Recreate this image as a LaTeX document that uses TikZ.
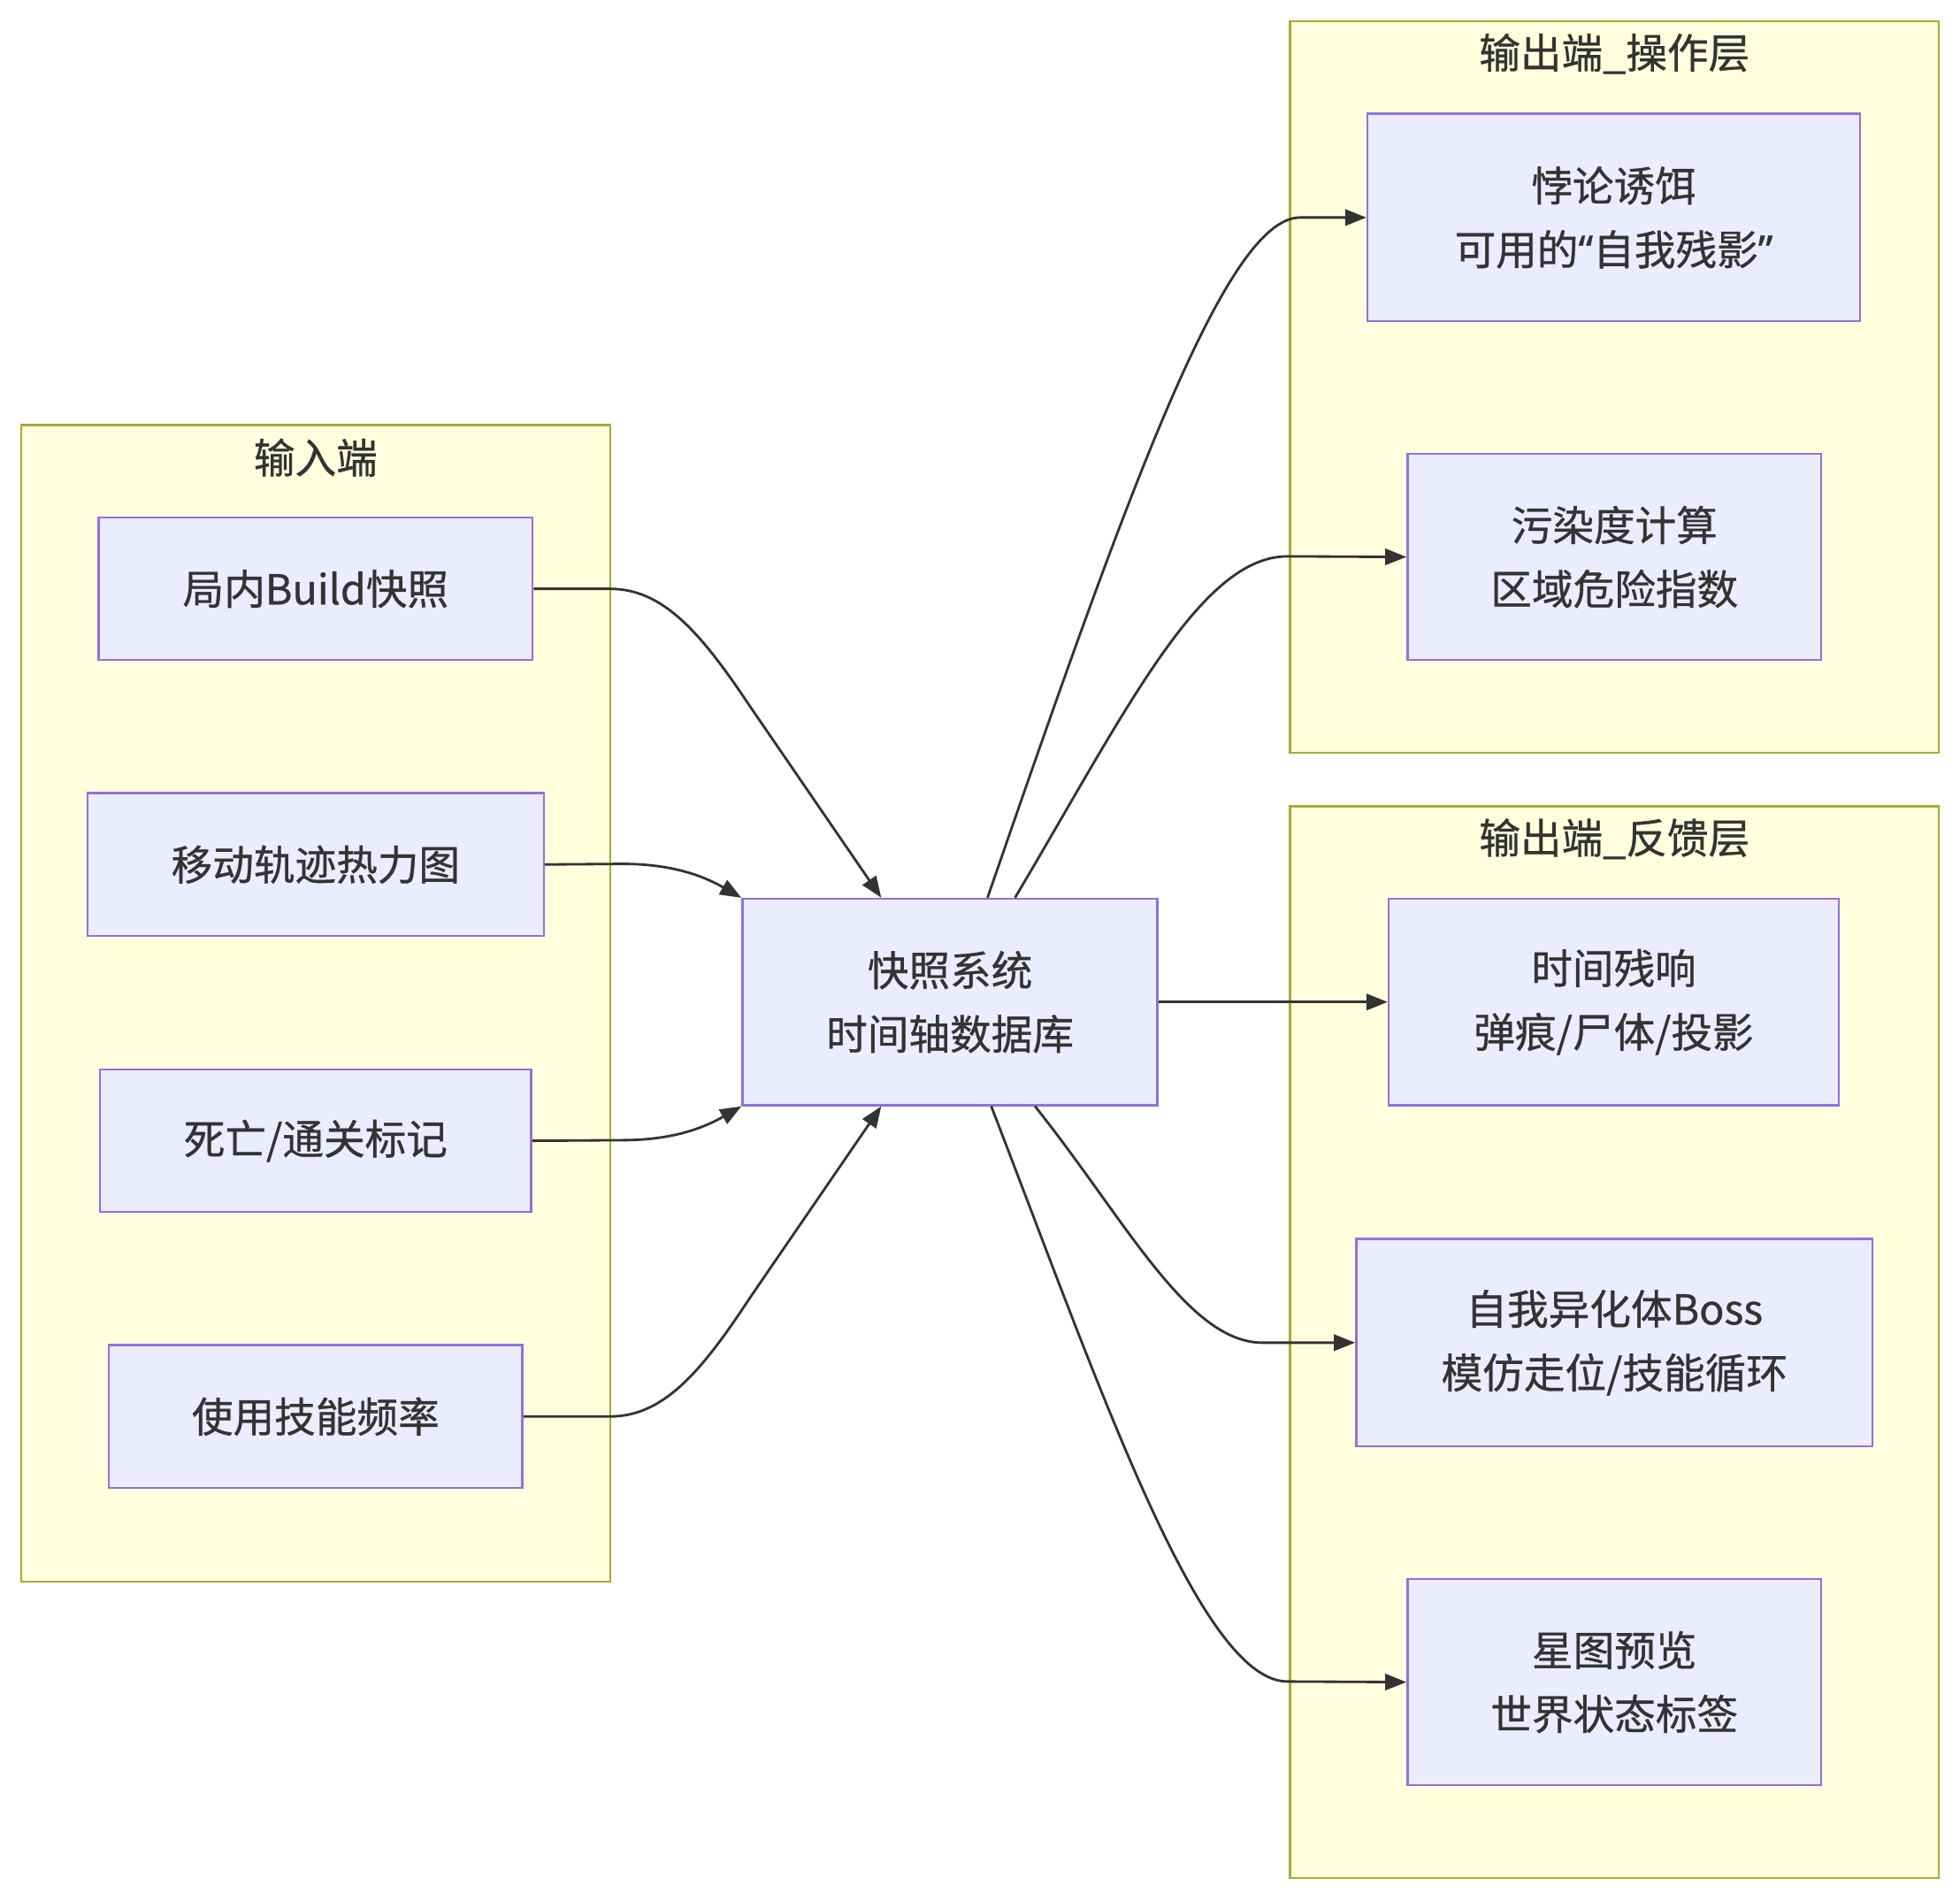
\documentclass[tikz,border=0pt]{standalone}
\usepackage{fontspec}
\setmainfont{Noto Sans CJK SC}[FakeBold=0.7]
\newfontfamily\quotefont{Noto Sans}[FakeBold=0.7]
\usetikzlibrary{arrows.meta}
\definecolor{boxfill}{HTML}{ECECFF}
\definecolor{boxline}{HTML}{9370DB}
\definecolor{grpfill}{HTML}{FFFFDE}
\definecolor{grpline}{HTML}{AAAA33}
\definecolor{ink}{HTML}{333333}
\newcommand{\quoted}[1]{{\quotefont“}#1{\quotefont”}}
\tikzset{
	box/.style={draw=boxline,fill=boxfill,line width=1.8pt,inner sep=0pt,align=center,text=ink,font=\fontsize{33}{51}\selectfont},
	grp/.style={draw=grpline,fill=grpfill,line width=1.6pt},
	grptitle/.style={text=ink,inner sep=0pt,font=\fontsize{33}{40}\selectfont},
	link/.style={draw=ink,line width=2pt,-{Triangle[length=17pt,width=13pt]}}
}
\begin{document}
\begin{tikzpicture}[x=1pt,y=-1pt]
	\useasboundingbox (0,0) rectangle (1568,1520);
	% groups
	\draw[grp] (17,340) rectangle (488,1265);
	\draw[grp] (1032,17) rectangle (1551,602);
	\draw[grp] (1032,645) rectangle (1551,1502);
	\node[grptitle] (tin) at (252.5,366) {输入端};
	\node[grptitle] (top) at (1291.5,43) {输出端\_操作层};
	\node[grptitle] (tfb) at (1291.5,671) {输出端\_反馈层};
	% input side
	\node[box,minimum width=347pt,minimum height=114pt] (build) at (252.5,471) {局内Build快照};
	\node[box,minimum width=365pt,minimum height=114pt] (heat) at (252.5,691.5) {移动轨迹热力图};
	\node[box,minimum width=345pt,minimum height=114pt] (death) at (252.5,912.5) {死亡/通关标记};
	\node[box,minimum width=331pt,minimum height=114pt] (skill) at (252.5,1133) {使用技能频率};
	% core
	\node[box,minimum width=332pt,minimum height=165pt] (core) at (760,801.5) {快照系统\\时间轴数据库};
	% output side
	\node[box,minimum width=394pt,minimum height=166pt] (bait) at (1291,174) {悖论诱饵\\可用的\quoted{自我残影}};
	\node[box,minimum width=331pt,minimum height=165pt] (pollute) at (1291.5,445.5) {污染度计算\\区域危险指数};
	\node[box,minimum width=360pt,minimum height=165pt] (echo) at (1291,801.5) {时间残响\\弹痕/尸体/投影};
	\node[box,minimum width=413pt,minimum height=166pt] (boss) at (1291.5,1074) {自我异化体Boss\\模仿走位/技能循环};
	\node[box,minimum width=331pt,minimum height=165pt] (star) at (1291.5,1345.5) {星图预览\\世界状态标签};
	% links in
	\draw[link] (build.east) -- (488,471) .. controls (530,471) and (560,505) .. (600,565) -- ([xshift=-55pt]core.north);
	\draw[link] (heat.east) -- (498,691) .. controls (540,691) and (565,702) .. (core.north west);
	\draw[link] (death.east) -- (498,912) .. controls (540,912) and (565,901) .. (core.south west);
	\draw[link] (skill.east) -- (488,1133) .. controls (530,1133) and (560,1099) .. (600,1038) -- ([xshift=-55pt]core.south);
	% links out
	\draw[link] ([xshift=30pt]core.north) .. controls (900,400) and (980,174) .. (1040,174) -- (bait.west);
	\draw[link] ([xshift=52pt]core.north) .. controls (900,570) and (960,445) .. (1030,445) -- (pollute.west);
	\draw[link] (core.east) -- (echo.west);
	\draw[link] ([xshift=68pt]core.south) .. controls (900,975) and (950,1074) .. (1010,1074) -- (boss.west);
	\draw[link] ([xshift=33pt]core.south) .. controls (880,1110) and (960,1345) .. (1030,1345) -- (star.west);
\end{tikzpicture}
\end{document}
